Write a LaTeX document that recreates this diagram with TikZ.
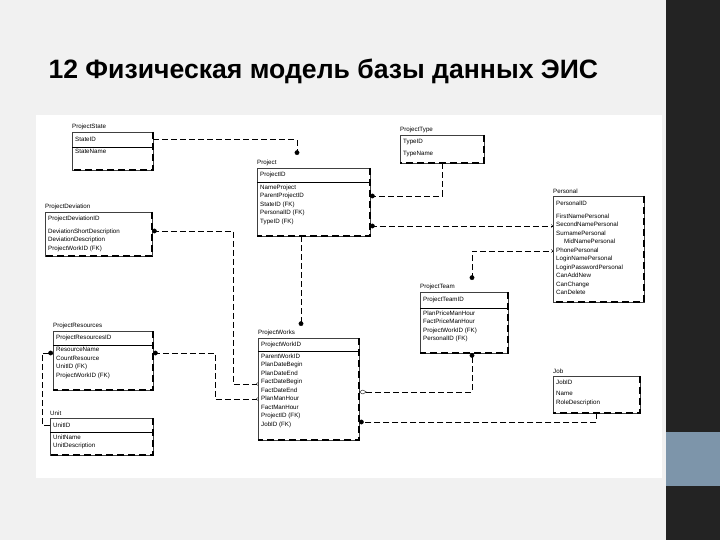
\documentclass[tikz,border=0pt]{standalone}
\usepackage{fontspec}
\setmainfont{Liberation Sans}
\usepackage{tikz}
\usetikzlibrary{arrows, positioning}
\definecolor{slidebg}{HTML}{F1F1F1}
\definecolor{barbg}{HTML}{232323}
\definecolor{barblue}{HTML}{7D95AA}
\newcommand{\erfont}{\fontsize{6.2}{8.5}\selectfont}
\tikzstyle{entity} = [rectangle, anchor=north west, draw=black!75, very thin, inner sep=0pt]
\tikzstyle{etitle} = [inner sep=0pt, font=\erfont]
\tikzstyle{keyrow} = [anchor=north west, inner xsep=3pt, inner ysep=0pt, align=left, font=\erfont]
\tikzstyle{attrs} = [anchor=north west, inner xsep=3pt, inner ysep=2pt, align=left, font=\erfont]
\tikzstyle{edge} = [line width=1.6pt, dash pattern=on 7pt off 4pt]
\tikzstyle{sep} = [very thin]
\tikzstyle{rel} = [thin, dash pattern=on 6pt off 3pt, >=to]

\begin{document}
\begin{tikzpicture}[x=1pt,y=-1pt]
\useasboundingbox (0,0) rectangle (720,540);
\fill[slidebg] (0,0) rectangle (720,540);
\fill[white] (36,115) rectangle (662,478);
\fill[barbg] (666,0) rectangle (720,540);
\fill[barblue] (666,432) rectangle (720,486);

\node (title) [anchor=base west, font=\fontsize{26.6}{30}\selectfont\bfseries] at (45,79) {12 Физическая модель базы данных ЭИС};

% ProjectState
\node (statebox) [entity, minimum width=81, minimum height=38] at (72,132) {};
\node (statetitle) [etitle, above right=2pt and 0pt of statebox.north west] {ProjectState};
\node (statekey) [keyrow, text width=75, minimum height=15] at (statebox.north west) {StateID};
\node (stateattr) [attrs] at (statekey.south west) {StateName};
\draw[sep] (statekey.south west) -- (statekey.south east);
\draw[edge] (statebox.north east) -- (statebox.south east) -- (statebox.south west);

% ProjectType
\node (typebox) [entity, minimum width=84, minimum height=28] at (400,135) {};
\node (typetitle) [etitle, above right=2pt and 0pt of typebox.north west] {ProjectType};
\node (typekey) [keyrow, text width=78, minimum height=14] at (typebox.north west) {TypeID};
\node (typeattr) [attrs] at (typekey.south west) {TypeName};
\draw[edge] (typebox.north east) -- (typebox.south east) -- (typebox.south west);

% Project
\node (projbox) [entity, minimum width=113, minimum height=68] at (257,168) {};
\node (projtitle) [etitle, above right=2pt and 0pt of projbox.north west] {Project};
\node (projkey) [keyrow, text width=107, minimum height=14] at (projbox.north west) {ProjectID};
\node (projattr) [attrs] at (projkey.south west) {NameProject\\ParentProjectID\\StateID (FK)\\PersonalID (FK)\\TypeID (FK)};
\draw[sep] (projkey.south west) -- (projkey.south east);
\draw[edge] (projbox.north east) -- (projbox.south east) -- (projbox.south west);

% ProjectDeviation
\node (devbox) [entity, minimum width=107, minimum height=44] at (45,212) {};
\node (devtitle) [etitle, above right=2pt and 0pt of devbox.north west] {ProjectDeviation};
\node (devkey) [keyrow, text width=101, minimum height=14] at (devbox.north west) {ProjectDeviationID};
\node (devattr) [attrs] at (devkey.south west) {DeviationShortDescription\\DeviationDescription\\ProjectWorkID (FK)};
\draw[edge] (devbox.north east) -- (devbox.south east) -- (devbox.south west);

% Personal
\node (persbox) [entity, minimum width=91, minimum height=106] at (553,196) {};
\node (perstitle) [etitle, above right=2pt and 0pt of persbox.north west] {Personal};
\node (perskey) [keyrow, text width=85, minimum height=15] at (persbox.north west) {PersonalID};
\node (persattr) [attrs] at (perskey.south west) {FirstNamePersonal\\SecondNamePersonal\\SurnamePersonal\\\hspace{8pt}MidNamePersonal\\PhonePersonal\\LoginNamePersonal\\LoginPasswordPersonal\\CanAddNew\\CanChange\\CanDelete};
\draw[edge] (persbox.north east) -- (persbox.south east) -- (persbox.south west);

% ProjectTeam
\node (teambox) [entity, minimum width=88, minimum height=61] at (420,292) {};
\node (teamtitle) [etitle, above right=2pt and 0pt of teambox.north west] {ProjectTeam};
\node (teamkey) [keyrow, text width=82, minimum height=16] at (teambox.north west) {ProjectTeamID};
\node (teamattr) [attrs] at (teamkey.south west) {PlanPriceManHour\\FactPriceManHour\\ProjectWorkID (FK)\\PersonalID (FK)};
\draw[sep] (teamkey.south west) -- (teamkey.south east);
\draw[edge] (teambox.north east) -- (teambox.south east) -- (teambox.south west);

% ProjectResources
\node (resbox) [entity, minimum width=100, minimum height=59] at (53,331) {};
\node (restitle) [etitle, above right=2pt and 0pt of resbox.north west] {ProjectResources};
\node (reskey) [keyrow, text width=94, minimum height=14] at (resbox.north west) {ProjectResourcesID};
\node (resattr) [attrs] at (reskey.south west) {ResourceName\\CountResource\\UnitID (FK)\\ProjectWorkID (FK)};
\draw[sep] (reskey.south west) -- (reskey.south east);
\draw[edge] (resbox.north east) -- (resbox.south east) -- (resbox.south west);

% ProjectWorks
\node (worksbox) [entity, minimum width=101, minimum height=102] at (258,338) {};
\node (workstitle) [etitle, above right=2pt and 0pt of worksbox.north west] {ProjectWorks};
\node (workskey) [keyrow, text width=95, minimum height=13] at (worksbox.north west) {ProjectWorkID};
\node (worksattr) [attrs] at (workskey.south west) {ParentWorkID\\PlanDateBegin\\PlanDateEnd\\FactDateBegin\\FactDateEnd\\PlanManHour\\FactManHour\\ProjectID (FK)\\JobID (FK)};
\draw[sep] (workskey.south west) -- (workskey.south east);
\draw[edge] (worksbox.north east) -- (worksbox.south east) -- (worksbox.south west);

% Job
\node (jobbox) [entity, minimum width=87, minimum height=37] at (553,376) {};
\node (jobtitle) [etitle, above right=2pt and 0pt of jobbox.north west] {Job};
\node (jobkey) [keyrow, text width=81, minimum height=13] at (jobbox.north west) {JobID};
\node (jobattr) [attrs] at (jobkey.south west) {Name\\RoleDescription};
\draw[edge] (jobbox.north east) -- (jobbox.south east) -- (jobbox.south west);

% Unit
\node (unitbox) [entity, minimum width=103, minimum height=37] at (50,418) {};
\node (unittitle) [etitle, above right=2pt and 0pt of unitbox.north west] {Unit};
\node (unitkey) [keyrow, text width=97, minimum height=14] at (unitbox.north west) {UnitID};
\node (unitattr) [attrs] at (unitkey.south west) {UnitName\\UnitDescription};
\draw[sep] (unitkey.south west) -- (unitkey.south east);
\draw[edge] (unitbox.north east) -- (unitbox.south east) -- (unitbox.south west);

% ports
\coordinate (projin) at (297,155);
\coordinate (projR1) at (370,196);
\coordinate (projR2) at (370,226);
\coordinate (persL1) at (553,226);
\coordinate (persL2) at (553,251);
\coordinate (teamin) at (472,280);
\coordinate (teamout) at (472,353);
\coordinate (worksin) at (301,326);
\coordinate (worksL1) at (258,384);
\coordinate (worksL2) at (258,399);
\coordinate (worksR1) at (359,392);
\coordinate (worksR2) at (359,422);
\coordinate (devR) at (152,231);
\coordinate (resR) at (153,353);
\coordinate (resL) at (53,353);

\draw [rel,-*] (statekey.east) -| (projin);
\draw [rel,-*] (typebox.south) |- (projR1);
\draw [rel,*->] (projR2) -- (persL1);
\draw [rel,*->] (teamin) |- (persL2);
\draw [rel,-*] (worksin |- projbox.south) -- (worksin);
\draw [rel,*-<] (devR) -- ++(81,0) |- (worksL1);
\draw [rel,*-<] (resR) -- ++(62,0) |- (worksL2);
\draw [rel,-*] (unitkey.west) -- ++(-8,0) |- (resL);
\draw [rel,open diamond-*] (worksR1) -| (teamout);
\draw [rel,-*] (jobbox.south) |- (worksR2);
\end{tikzpicture}
\end{document}
